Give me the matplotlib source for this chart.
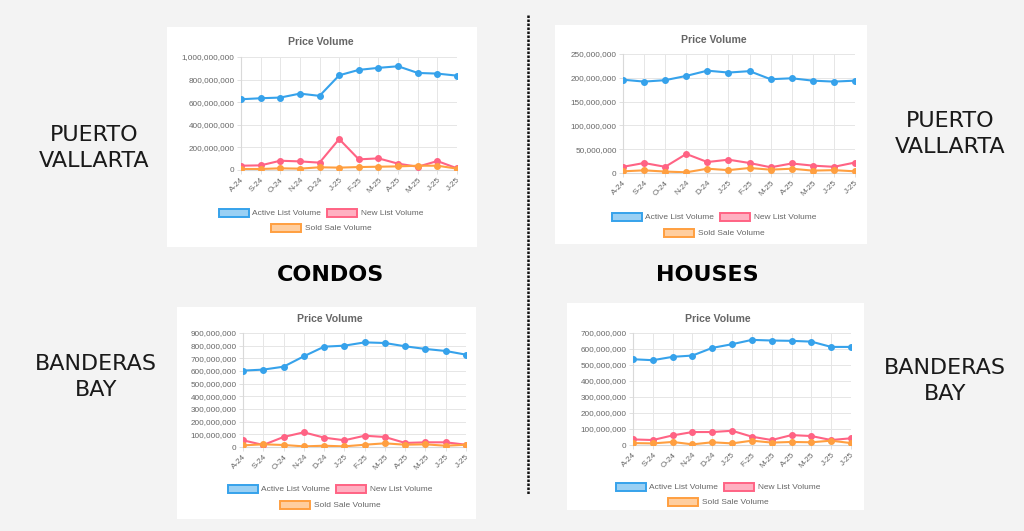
import numpy as np
import matplotlib
matplotlib.use("Agg")
import matplotlib.pyplot as plt
from matplotlib.patches import Patch, Rectangle
from matplotlib.ticker import FuncFormatter, MultipleLocator

# ---- data ----
months = ["A-24", "S-24", "O-24", "N-24", "D-24", "J-25",
          "F-25", "M-25", "A-25", "M-25", "J-25", "J-25"]

# condos, Puerto Vallarta
pv_condo_active = [626e6, 635e6, 641e6, 676e6, 656e6, 838e6, 886e6, 904e6, 918e6, 859e6, 853e6, 835e6]
pv_condo_new = [38e6, 41e6, 82e6, 76e6, 65e6, 274e6, 94e6, 103e6, 56e6, 29e6, 79e6, 15e6]
pv_condo_sold = [9e6, 9e6, 15e6, 12e6, 24e6, 21e6, 26e6, 29e6, 32e6, 38e6, 38e6, 12e6]

# houses, Puerto Vallarta
pv_house_active = [196e6, 192e6, 195e6, 204e6, 215e6, 211e6, 214e6, 197e6, 199e6, 194e6, 192e6, 194e6]
pv_house_new = [13e6, 21e6, 13e6, 40e6, 23e6, 28e6, 21e6, 12e6, 20e6, 15.5e6, 13e6, 22e6]
pv_house_sold = [3.5e6, 5.6e6, 3e6, 1.5e6, 9e6, 6e6, 10.5e6, 7e6, 9e6, 5e6, 6e6, 3.5e6]

# condos, Banderas Bay
bb_condo_active = [603e6, 611e6, 634e6, 716e6, 792e6, 800e6, 826e6, 821e6, 795e6, 774e6, 758e6, 729e6]
bb_condo_new = [53e6, 16e6, 79e6, 116e6, 74e6, 53e6, 89e6, 79e6, 32e6, 37e6, 37e6, 18e6]
bb_condo_sold = [13e6, 21e6, 16e6, 5e6, 10e6, 5e6, 18e6, 29e6, 18e6, 21e6, 10e6, 18e6]

# houses, Banderas Bay
bb_house_active = [536e6, 530e6, 551e6, 559e6, 607e6, 630e6, 657e6, 653e6, 651e6, 646e6, 613e6, 613e6]
bb_house_new = [35e6, 31e6, 60e6, 81e6, 81e6, 89e6, 52e6, 31e6, 62e6, 56e6, 31e6, 42e6]
bb_house_sold = [12e6, 10e6, 19e6, 4e6, 17e6, 10e6, 27e6, 15e6, 19e6, 17e6, 27e6, 12e6]

series_names = ["Active List Volume", "New List Volume", "Sold Sale Volume"]

W, H = 1024, 531
BG = "#f3f3f3"
TXT = "#666666"
COLORS = ["#36a2eb", "#ff6384", "#ff9f40"]
FILLS = [(54/255, 162/255, 235/255, 0.5), (255/255, 99/255, 132/255, 0.5), (255/255, 159/255, 64/255, 0.5)]
CHART_FONT = "Liberation Sans"


def rect(x0, y0, x1, y1):
    """pixel box (top-left origin) -> figure fraction rect"""
    return [x0 / W, 1 - y1 / H, (x1 - x0) / W, (y1 - y0) / H]


def draw_panel(fig, box, plot, ymax, step, data, cx, title_y, leg_y1, leg_y2):
    bg = fig.add_axes(rect(*box), zorder=0)
    bg.set_facecolor("white")
    bg.set_xticks([])
    bg.set_yticks([])
    for s in bg.spines.values():
        s.set_visible(False)

    ax = fig.add_axes(rect(*plot), zorder=1)
    ax.set_facecolor("none")
    x = np.arange(len(months))
    for vals, c in zip(data, COLORS):
        ax.plot(x, vals, color=c, lw=1.5, marker="o", ms=4, mfc=c, mec=c, zorder=3)
    ax.set_xlim(0, len(months) - 1)
    ax.set_ylim(0, ymax)
    ax.yaxis.set_major_locator(MultipleLocator(step))
    ax.yaxis.set_major_formatter(FuncFormatter(lambda v, p: f"{v:,.0f}"))
    ax.set_xticks(x)
    ax.set_xticklabels(months, rotation=45, ha="right", rotation_mode="anchor")
    ax.grid(True, color="#e6e6e6", lw=0.7)
    ax.set_axisbelow(True)
    for s in ax.spines.values():
        s.set_visible(False)
    ax.spines["left"].set_visible(True)
    ax.spines["bottom"].set_visible(True)
    ax.spines["left"].set_color("#d9d9d9")
    ax.spines["bottom"].set_color("#d9d9d9")
    ax.tick_params(colors="#e0e0e0", labelcolor=TXT, labelsize=5.9, length=3, width=0.7, pad=1.5)
    for lab in ax.get_xticklabels() + ax.get_yticklabels():
        lab.set_fontfamily(CHART_FONT)

    fig.text(cx / W, 1 - title_y / H, "Price Volume", ha="center", va="center",
             fontsize=7.6, fontweight="bold", color=TXT, family=CHART_FONT)

    handles = [Patch(facecolor=f, edgecolor=c, lw=1.4) for f, c in zip(FILLS, COLORS)]
    kw = dict(loc="center", frameon=False, handlelength=3.6, handleheight=1.1,
              handletextpad=0.45, columnspacing=0.7, borderpad=0, borderaxespad=0,
              prop={"family": CHART_FONT, "size": 6.0}, labelcolor=TXT)
    fig.legend(handles[:2], series_names[:2], ncol=2,
               bbox_to_anchor=(cx / W, 1 - leg_y1 / H), **kw)
    fig.legend(handles[2:], series_names[2:], ncol=1,
               bbox_to_anchor=(cx / W, 1 - leg_y2 / H), **kw)


fig = plt.figure(figsize=(W / 100, H / 100), dpi=100)
fig.patch.set_facecolor(BG)

draw_panel(fig, (167, 27, 477, 247), (241, 57, 457, 170), 1e9, 2e8,
           [pv_condo_active, pv_condo_new, pv_condo_sold], 321, 42, 213, 228)
draw_panel(fig, (555, 25, 867, 244), (623, 54, 855, 173), 250e6, 50e6,
           [pv_house_active, pv_house_new, pv_house_sold], 714, 40, 217, 233)
draw_panel(fig, (177, 307, 476, 519), (243, 333, 466, 447), 900e6, 100e6,
           [bb_condo_active, bb_condo_new, bb_condo_sold], 330, 319, 489, 505)
draw_panel(fig, (567, 303, 864, 510), (633, 333, 851, 445), 700e6, 100e6,
           [bb_house_active, bb_house_new, bb_house_sold], 718, 319, 487, 502)

# region labels
label_kw = dict(ha="center", va="center", fontsize=16, color="#1a1a1a",
                family="DejaVu Sans", linespacing=1.35)
fig.text(94 / W, 1 - 148 / H, "PUERTO\nVALLARTA", **label_kw)
fig.text(950 / W, 1 - 134 / H, "PUERTO\nVALLARTA", **label_kw)
fig.text(96 / W, 1 - 377 / H, "BANDERAS\nBAY", **label_kw)
fig.text(945 / W, 1 - 381 / H, "BANDERAS\nBAY", **label_kw)

fig.text(331 / W, 1 - 275 / H, "CONDOS", ha="center", va="center", fontsize=16,
         fontweight="bold", color="black", family="DejaVu Sans")
fig.text(707 / W, 1 - 275 / H, "HOUSES", ha="center", va="center", fontsize=16,
         fontweight="bold", color="black", family="DejaVu Sans")

# dotted divider
fig.add_artist(plt.Line2D([528 / W, 528 / W], [1 - 15 / H, 1 - 495 / H],
                          transform=fig.transFigure, color="#111111",
                          lw=1.8, linestyle=(0, (1, 0.6))))

fig.savefig("out.png", dpi=100, facecolor=BG)
